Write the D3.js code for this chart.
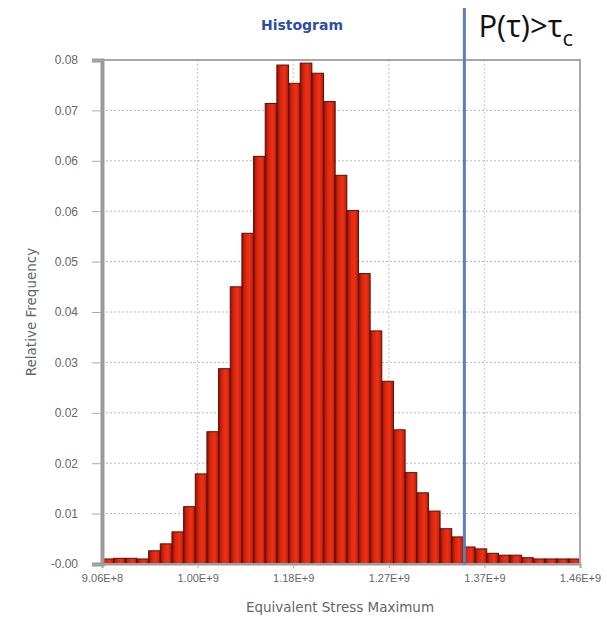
<!DOCTYPE html>
<html>
<head>
<meta charset="utf-8">
<script src="https://cdn.jsdelivr.net/npm/d3@7"></script>
<style>
  body { margin: 0; background: #fff; }
  svg { display: block; font-family: "DejaVu Sans", Verdana, sans-serif; }
</style>
</head>
<body>
<div id="chart"></div>
<script>
// relative frequency per bin (41 bins)
const binValues = [0.0008, 0.0009, 0.0009, 0.0008, 0.0021, 0.0032, 0.0051, 0.0091, 0.0143, 0.0210,
  0.0310, 0.0440, 0.0525, 0.0647, 0.0731, 0.0792, 0.0763, 0.0795, 0.0779, 0.0734,
  0.0617, 0.0561, 0.0461, 0.0370, 0.0290, 0.0213, 0.0145, 0.0113, 0.0084, 0.0056,
  0.0043, 0.0027, 0.0024, 0.0017, 0.0014, 0.0014, 0.0010, 0.0008, 0.0008, 0.0008, 0.0008];

const xMin = 9.06e8;
const xMax = 1.46e9;
const xTickLabels = ['9.06E+8', '1.00E+9', '1.18E+9', '1.27E+9', '1.37E+9', '1.46E+9'];

const yTickValues = [0, 0.008, 0.016, 0.024, 0.032, 0.04, 0.048, 0.056, 0.064, 0.072, 0.08];
const yTickLabels = ['-0.00', '0.01', '0.02', '0.02', '0.03', '0.04', '0.05', '0.06', '0.06', '0.07', '0.08'];

const thresholdValue = 1.326e9;

const width = 607, height = 619;
const margin = {top: 60, right: 27, bottom: 55, left: 102};

const svg = d3.select('#chart').append('svg')
  .attr('width', width)
  .attr('height', height);

const defs = svg.append('defs');
const grad = defs.append('linearGradient').attr('id', 'barFill')
  .attr('x1', '0%').attr('x2', '100%').attr('y1', '0%').attr('y2', '0%');
grad.append('stop').attr('offset', '0%').attr('stop-color', '#8a1306');
grad.append('stop').attr('offset', '30%').attr('stop-color', '#d8260e');
grad.append('stop').attr('offset', '65%').attr('stop-color', '#ee3218');
grad.append('stop').attr('offset', '100%').attr('stop-color', '#b01c08');

const x = d3.scaleLinear()
  .domain([xMin, xMax])
  .range([margin.left, width - margin.right]);

const xBand = d3.scaleBand()
  .domain(d3.range(binValues.length))
  .range([margin.left, width - margin.right])
  .padding(0);

const y = d3.scaleLinear()
  .domain([0, 0.08])
  .range([height - margin.bottom, margin.top]);

const xTickValues = xTickLabels.map((d, i) => xMin + i * (xMax - xMin) / (xTickLabels.length - 1));

// grid
svg.append('g')
  .selectAll('line')
  .data(yTickValues.slice(1, -1))
  .join('line')
    .attr('x1', margin.left).attr('x2', width - margin.right)
    .attr('y1', d => y(d)).attr('y2', d => y(d))
    .attr('stroke', '#b8b8b8')
    .attr('stroke-dasharray', '2,2');

svg.append('g')
  .selectAll('line')
  .data(xTickValues.slice(1, -1))
  .join('line')
    .attr('x1', d => x(d)).attr('x2', d => x(d))
    .attr('y1', margin.top).attr('y2', height - margin.bottom)
    .attr('stroke', '#c4c4c4')
    .attr('stroke-dasharray', '2,2');

// bars
svg.append('g')
  .selectAll('rect')
  .data(binValues)
  .join('rect')
    .attr('x', (d, i) => xBand(i))
    .attr('y', d => y(d))
    .attr('width', xBand.bandwidth())
    .attr('height', d => y(0) - y(d))
    .attr('fill', 'url(#barFill)')
    .attr('stroke', '#5e0d04')
    .attr('stroke-width', 1);

// frame
svg.append('rect')
  .attr('x', margin.left).attr('y', margin.top)
  .attr('width', width - margin.left - margin.right)
  .attr('height', height - margin.top - margin.bottom)
  .attr('fill', 'none')
  .attr('stroke', '#a8a8a8')
  .attr('stroke-width', 2);

// y axis
const yAxis = svg.append('g')
  .attr('transform', `translate(${margin.left},0)`)
  .call(d3.axisLeft(y).tickValues(yTickValues).tickFormat((d, i) => yTickLabels[i]).tickSize(10).tickPadding(14));
yAxis.select('.domain').attr('stroke', '#9a9a9a').attr('stroke-width', 4);
yAxis.selectAll('.tick line').attr('stroke', '#aaa');
yAxis.selectAll('.tick text').attr('fill', '#666').style('font-size', '12px');

// x axis
const xAxis = svg.append('g')
  .attr('transform', `translate(0,${height - margin.bottom})`)
  .call(d3.axisBottom(x).tickValues(xTickValues).tickFormat((d, i) => xTickLabels[i]).tickSize(4).tickPadding(6));
xAxis.select('.domain').attr('stroke', '#9a9a9a').attr('stroke-width', 2);
xAxis.selectAll('.tick line').attr('stroke', '#aaa');
xAxis.selectAll('.tick text').attr('fill', '#666').style('font-size', '11px');

// axis titles
svg.append('text')
  .attr('x', 340)
  .attr('y', 612)
  .attr('text-anchor', 'middle')
  .attr('fill', '#666')
  .style('font-size', '13.5px')
  .text('Equivalent Stress Maximum');

svg.append('text')
  .attr('transform', `translate(36,${(margin.top + height - margin.bottom) / 2}) rotate(-90)`)
  .attr('text-anchor', 'middle')
  .attr('fill', '#666')
  .style('font-size', '13.5px')
  .text('Relative Frequency');

// title
svg.append('text')
  .attr('x', 302)
  .attr('y', 30)
  .attr('text-anchor', 'middle')
  .attr('fill', '#2f4f9e')
  .style('font-size', '14px')
  .style('font-weight', 'bold')
  .text('Histogram');

// threshold line
svg.append('line')
  .attr('x1', x(thresholdValue)).attr('x2', x(thresholdValue))
  .attr('y1', 8).attr('y2', y(0))
  .attr('stroke', '#5a80b8')
  .attr('stroke-width', 3);

const pt = svg.append('text')
  .attr('x', x(thresholdValue) + 14)
  .attr('y', 37)
  .attr('fill', '#111')
  .style('font-family', '"Open Sans", "Noto Sans", sans-serif')
  .style('font-size', '31px');
pt.append('tspan').text('P(τ)>τ');
pt.append('tspan').attr('dy', 9).style('font-size', '22px').text('c');
</script>
</body>
</html>
